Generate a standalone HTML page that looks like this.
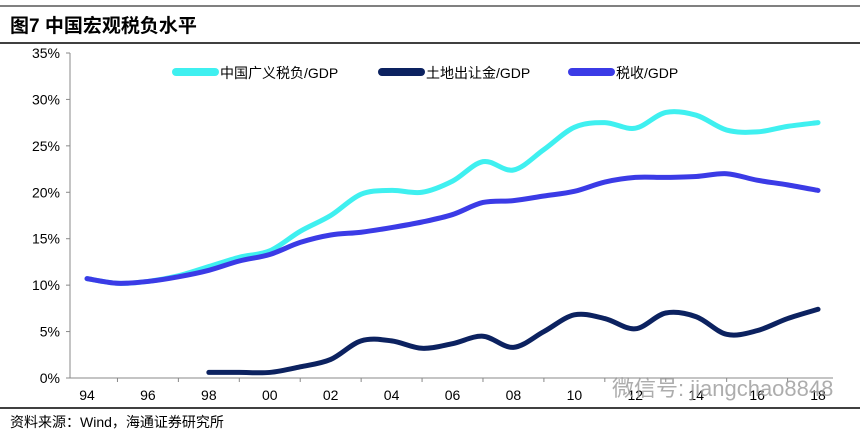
<!DOCTYPE html>
<html><head><meta charset="utf-8"><style>
body{margin:0;background:#fff;width:860px;height:433px;overflow:hidden;font-family:"Liberation Sans","Noto Sans CJK SC",sans-serif;}
</style></head><body>
<svg width="860" height="433" xmlns="http://www.w3.org/2000/svg">
<line x1="0" y1="6" x2="860" y2="6" stroke="#000" stroke-width="1"/>
<text x="10" y="32" font-size="19" font-weight="bold" font-family="Liberation Sans,Noto Sans CJK SC,sans-serif">图7  中国宏观税负水平</text>
<line x1="0" y1="43" x2="860" y2="43" stroke="#000" stroke-width="1.5"/>
<line x1="0" y1="408" x2="860" y2="408" stroke="#000" stroke-width="1.5"/>
<text x="10" y="427" font-size="14">资料来源：Wind，海通证券研究所</text>
<g id="axes"></g>
<g id="series"></g>
<g>
<line x1="176" y1="72" x2="215" y2="72" stroke="#3ff0f0" stroke-width="8" stroke-linecap="round"/>
<text x="220" y="78" font-size="14">中国广义税负/GDP</text>
<line x1="382" y1="72" x2="421" y2="72" stroke="#0c2260" stroke-width="8" stroke-linecap="round"/>
<text x="426" y="78" font-size="14">土地出让金/GDP</text>
<line x1="572" y1="72" x2="611" y2="72" stroke="#3b3be6" stroke-width="8" stroke-linecap="round"/>
<text x="616" y="78" font-size="14">税收/GDP</text>
</g>
<text x="612" y="396" font-size="22" fill="#999" opacity="0.8">微信号: jiangchao8848</text>
</svg>
<script>
const years=[1994,1995,1996,1997,1998,1999,2000,2001,2002,2003,2004,2005,2006,2007,2008,2009,2010,2011,2012,2013,2014,2015,2016,2017,2018];
const broad=[10.7,10.2,10.4,11.0,12.0,13.0,13.7,15.8,17.5,19.8,20.2,20.0,21.2,23.3,22.4,24.6,27.0,27.5,26.9,28.6,28.3,26.7,26.5,27.1,27.5];
const tax=[10.7,10.2,10.4,10.9,11.6,12.6,13.3,14.6,15.4,15.7,16.2,16.8,17.6,18.9,19.1,19.6,20.1,21.1,21.6,21.6,21.7,22.0,21.3,20.8,20.2];
const land=[null,null,null,null,0.6,0.6,0.6,1.2,2.0,4.0,4.0,3.2,3.7,4.5,3.3,5.0,6.8,6.4,5.3,7.0,6.6,4.7,5.1,6.4,7.4];
const yTicks=[0,5,10,15,20,25,30,35];
const xLabels=["94","96","98","00","02","04","06","08","10","12","14","16","18"];
const NS="http://www.w3.org/2000/svg";
const x=yr=>87+(yr-1994)*30.46;
const y=v=>378-v*9.286;
const axes=document.getElementById('axes'),ser=document.getElementById('series');
function mk(tag,attrs,parent){const e=document.createElementNS(NS,tag);for(const k in attrs)e.setAttribute(k,attrs[k]);parent.appendChild(e);return e;}
let ya=mk('line',{x1:70,y1:y(35),x2:70,y2:378,stroke:'#888'},axes);


let xa=mk('line',{x1:70,y1:378,x2:833,y2:378,stroke:'#888'},axes);


yTicks.forEach(t=>{
 let l=mk('line',{x1:66,x2:70,y1:y(t),y2:y(t),stroke:'#888'},axes);
 
 
 let tx=mk('text',{x:60,y:y(t)+5,'font-size':14,'text-anchor':'end'},axes);
 tx.textContent=t+'%';
 
 
});
for(let yr=1995;yr<=2017;yr+=2){
 let l=mk('line',{x1:x(yr),x2:x(yr),y1:378,y2:382,stroke:'#888'},axes);
 
 
}
xLabels.forEach((s,i)=>{
 let tx=mk('text',{x:x(1994+2*i),y:400,'font-size':14,'text-anchor':'middle'},axes);
 tx.textContent=s;
 
 
});
function path(vals,color,name){
 const pts=[];vals.forEach((v,i)=>{if(v!==null)pts.push([x(years[i]),y(v)]);});
 let d='M'+pts[0][0]+','+pts[0][1];
 for(let i=0;i<pts.length-1;i++){
  const p0=pts[Math.max(0,i-1)],p1=pts[i],p2=pts[i+1],p3=pts[Math.min(pts.length-1,i+2)];
  const c1=[p1[0]+(p2[0]-p0[0])/6,p1[1]+(p2[1]-p0[1])/6],c2=[p2[0]-(p3[0]-p1[0])/6,p2[1]-(p3[1]-p1[1])/6];
  d+=` C${c1[0]},${c1[1]} ${c2[0]},${c2[1]} ${p2[0]},${p2[1]}`;
 }
 let p=mk('path',{d:d,fill:'none',stroke:color,'stroke-width':5,'stroke-linecap':'round','stroke-linejoin':'round'},ser);
 
 
}
path(broad,'#3ff0f0','line-broad-tax');
path(land,'#0c2260','line-land-sales');
path(tax,'#3b3be6','line-tax-revenue');
</script>
</body></html>
